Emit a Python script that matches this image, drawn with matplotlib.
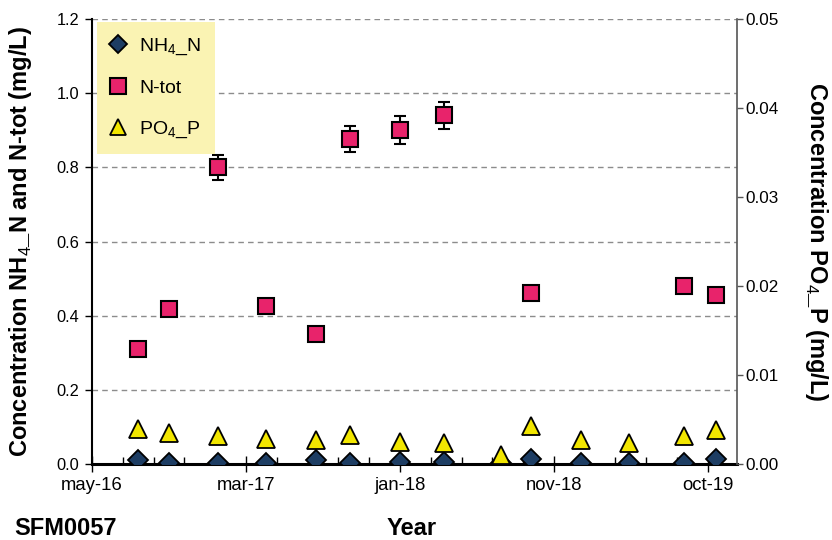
import datetime as dt
import numpy as np
import matplotlib
matplotlib.use('Agg')
import matplotlib.pyplot as plt
import matplotlib.dates as mdates
from matplotlib.lines import Line2D
from matplotlib.ticker import FixedLocator, FixedFormatter

plt.rcParams['font.family'] = ['Liberation Sans', 'DejaVu Sans']
plt.rcParams['mathtext.fontset'] = 'custom'
plt.rcParams['mathtext.rm'] = 'Liberation Sans'
plt.rcParams['mathtext.bf'] = 'Liberation Sans:bold'

# sampling dates (station SFM0057)
sample_dates = ['2016-08-02', '2016-10-03', '2017-01-11', '2017-04-19', '2017-07-28',
                '2017-10-06', '2018-01-15', '2018-04-14', '2018-08-07', '2018-10-07',
                '2019-01-17', '2019-04-25', '2019-08-13', '2019-10-17']
nh4_n = [0.011, 0.002, 0.002, 0.002, 0.011, 0.004, 0.005, 0.006, 0.002, 0.013,
         0.002, 0.002, 0.002, 0.013]
n_tot = [0.310, 0.418, 0.800, 0.427, 0.351, 0.876, 0.901, 0.940, np.nan, 0.462,
         np.nan, np.nan, 0.481, 0.456]
n_tot_err = [0.0, 0.0, 0.033, 0.0, 0.0, 0.035, 0.037, 0.037, 0.0, 0.0,
             0.0, 0.0, 0.0, 0.0]
po4_p = [0.0039, 0.00345, 0.0031, 0.00285, 0.00266, 0.00324, 0.00247, 0.00236, 0.00105,
         0.00427, 0.00268, 0.00232, 0.00315, 0.00386]

tick_labels = ['may-16', 'mar-17', 'jan-18', 'nov-18', 'oct-19']
left_ticks = [0.0, 0.2, 0.4, 0.6, 0.8, 1.0, 1.2]
right_ticks = [0.00, 0.01, 0.02, 0.03, 0.04, 0.05]

x = mdates.date2num([dt.datetime.strptime(d, '%Y-%m-%d') for d in sample_dates])
x0 = mdates.date2num(dt.datetime(2016, 5, 1))
major_step = 312.0
minor_step = major_step / 5

fig = plt.figure(figsize=(8.32, 5.40), dpi=100)
ax = fig.add_axes([0.1106, 0.1407, 0.7752, 0.8241])
ax2 = ax.twinx()

navy = '#1d3d63'
pink = '#e8236b'
yellow = '#f2e600'

for v in left_ticks[1:]:
    ax.axhline(v, color='#8c8c8c', lw=1.0, ls=(0, (4, 3)), zorder=0)

ax.plot(x, nh4_n, ls='none', marker='D', ms=10.5, mfc=navy, mec='black', mew=1.3,
        zorder=4)
ax.errorbar(x, n_tot, yerr=n_tot_err, ls='none', marker='s', ms=12, mfc=pink,
            mec='black', mew=1.5, ecolor='black', elinewidth=1.5, capsize=4,
            capthick=1.5, zorder=3)
ax2.plot(x, po4_p, ls='none', marker='^', ms=13.5, mfc=yellow, mec='black', mew=1.3,
         zorder=2)

ax.set_ylim(0, 1.2)
ax2.set_ylim(0, 0.05)
ax.set_xlim(x0, x0 + 1307)

ax.set_yticks(left_ticks)
ax.set_yticklabels(['%.1f' % v for v in left_ticks])
ax2.set_yticks(right_ticks)
ax2.set_yticklabels(['%.2f' % v for v in right_ticks])

majors = x0 + major_step * np.arange(len(tick_labels))
minors = x0 + minor_step * np.arange(21)
minors = [m for i, m in enumerate(minors) if i % 5 != 0]
ax.xaxis.set_major_locator(FixedLocator(majors))
ax.xaxis.set_major_formatter(FixedFormatter(tick_labels))
ax.xaxis.set_minor_locator(FixedLocator(minors))

ax.spines['top'].set_visible(False)
ax2.spines['top'].set_visible(False)
ax.spines['right'].set_visible(False)
ax2.spines['left'].set_visible(False)
ax2.spines['bottom'].set_visible(False)
ax.spines['left'].set_linewidth(1.5)
ax.spines['bottom'].set_linewidth(2.2)
ax2.spines['right'].set_color('#555555')
ax2.spines['right'].set_linewidth(1.2)

ax.tick_params(axis='y', direction='out', length=5, width=1, labelsize=11.8, pad=4)
ax.tick_params(axis='x', which='major', direction='inout', length=12, width=1,
               labelsize=13.3, pad=3)
ax.tick_params(axis='x', which='minor', direction='in', length=5, width=1)
ax2.tick_params(axis='y', direction='out', length=4, width=1, color='#555555',
                labelsize=12.3, pad=2)

ax.set_ylabel(r'Concentration NH$_4$_N and N-tot (mg/L)', fontsize=17,
              fontweight='bold', va='center')
ax.yaxis.set_label_coords(-0.111, 0.5)
ax2.set_ylabel(r'Concentration PO$_4$_P (mg/L)', fontsize=17, fontweight='bold',
               rotation=270, va='center')
ax2.yaxis.set_label_coords(1.124, 0.5)

fig.text(0.017, 0.022, 'SFM0057', fontsize=17, fontweight='bold', va='center')
fig.text(0.495, 0.022, 'Year', fontsize=17, fontweight='bold', va='center', ha='center')

handles = [
    Line2D([], [], ls='none', marker='D', ms=9, mfc=navy, mec='black', mew=1.3),
    Line2D([], [], ls='none', marker='s', ms=11, mfc=pink, mec='black', mew=1.5),
    Line2D([], [], ls='none', marker='^', ms=12, mfc=yellow, mec='black', mew=1.3),
]
labels = [r'NH$_4$_N', 'N-tot', r'PO$_4$_P']
leg = ax2.legend(handles, labels, loc='upper left', bbox_to_anchor=(0.008, 0.993),
                 frameon=True, fancybox=False, facecolor='#faf3b3', edgecolor='none',
                 framealpha=1, fontsize=14, labelspacing=1.15, handlelength=0.6,
                 handletextpad=0.8, borderpad=0.75, borderaxespad=0)

fig.savefig('out.png', dpi=100)
